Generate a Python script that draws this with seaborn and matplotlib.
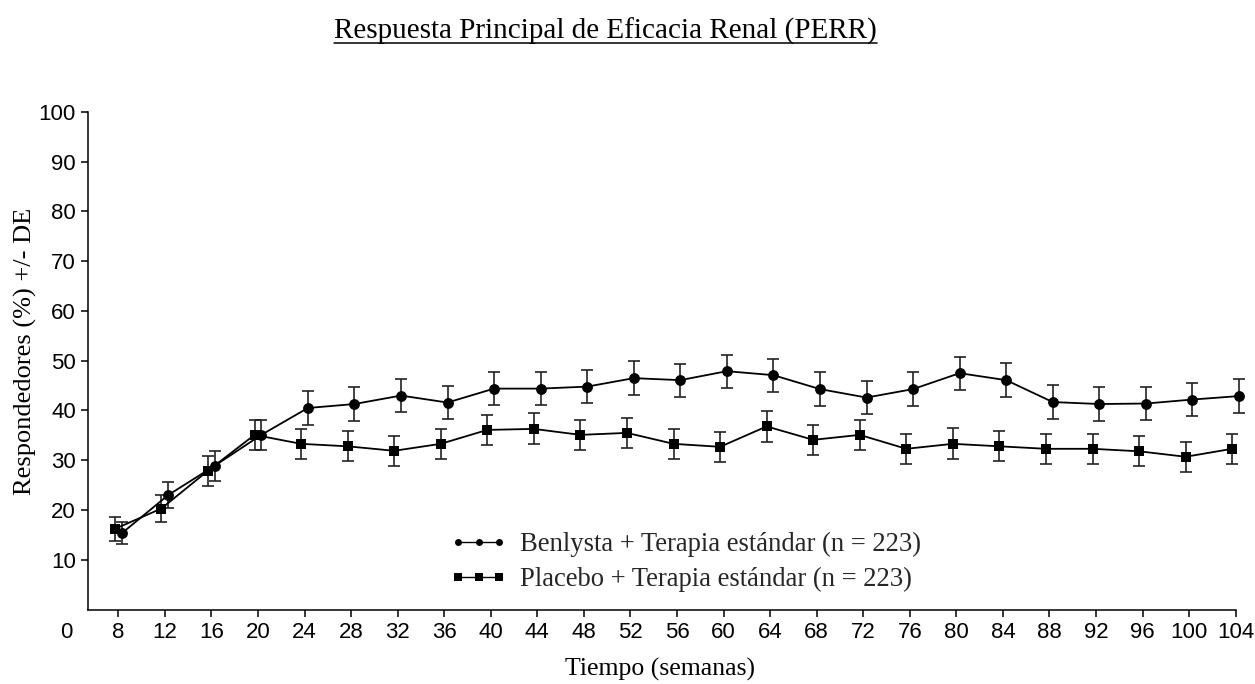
import numpy as np
import pandas as pd
import matplotlib
matplotlib.use("Agg")
import matplotlib.pyplot as plt
import matplotlib.transforms as mtransforms
from matplotlib.lines import Line2D
import seaborn as sns

# ---- data ----
weeks = [8, 12, 16, 20, 24, 28, 32, 36, 40, 44, 48, 52, 56, 60, 64, 68, 72, 76, 80, 84, 88, 92, 96, 100, 104]
benlysta = [15.3, 23.0, 28.9, 35.1, 40.5, 41.3, 43.0, 41.6, 44.4, 44.4, 44.8, 46.5, 46.1, 47.9, 47.1, 44.3,
            42.6, 44.3, 47.5, 46.1, 41.7, 41.3, 41.4, 42.2, 42.9]
benlysta_sd = [2.2, 2.65, 3.0, 3.05, 3.35, 3.4, 3.4, 3.3, 3.3, 3.3, 3.3, 3.35, 3.3, 3.35, 3.3, 3.35,
               3.3, 3.35, 3.35, 3.35, 3.35, 3.35, 3.35, 3.3, 3.35]
placebo = [16.2, 20.3, 27.9, 35.1, 33.3, 32.8, 31.9, 33.3, 36.1, 36.3, 35.1, 35.5, 33.3, 32.7, 36.8, 34.1,
           35.1, 32.3, 33.3, 32.8, 32.3, 32.3, 31.8, 30.7, 32.3]
placebo_sd = [2.35, 2.7, 3.0, 3.05, 3.05, 3.05, 3.05, 3.0, 3.05, 3.1, 3.05, 3.0, 3.05, 3.05, 3.05, 3.05,
              3.05, 3.05, 3.1, 3.05, 3.05, 3.05, 3.05, 3.05, 3.05]
label_b = "Benlysta + Terapia estándar (n = 223)"
label_p = "Placebo + Terapia estándar (n = 223)"
title = "Respuesta Principal de Eficacia Renal (PERR)"
xlabel = "Tiempo (semanas)"
ylabel = "Respondedores (%) +/- DE"
yticks = [10, 20, 30, 40, 50, 60, 70, 80, 90, 100]

# ---- style ----
sns.set_theme(style="ticks")
plt.rcParams['font.family'] = ['Liberation Sans', 'DejaVu Sans']
serif = ['Liberation Serif', 'DejaVu Serif']

dodge_b, dodge_p = 0.28, -0.30
df_b = pd.DataFrame({"x": np.array(weeks) + dodge_b, "y": benlysta, "sd": benlysta_sd, "g": label_b})
df_p = pd.DataFrame({"x": np.array(weeks) + dodge_p, "y": placebo, "sd": placebo_sd, "g": label_p})

fig = plt.figure(figsize=(12.55, 6.84), dpi=100)
ax = fig.add_axes([0.0704, 0.1089, 0.9142, 0.7274])

errc = "#222222"
for d in (df_p, df_b):
    ax.errorbar(d["x"], d["y"], yerr=d["sd"], fmt="none", ecolor=errc, elinewidth=1.2,
                capsize=4.6, capthick=1.2, clip_on=False, zorder=2)

sns.lineplot(data=df_p, x="x", y="y", ax=ax, color="black", marker="s", markersize=6.5,
             markeredgewidth=0, linewidth=1.3, legend=False, zorder=3, clip_on=False)
sns.lineplot(data=df_b, x="x", y="y", ax=ax, color="black", marker="o", markersize=7.8,
             markeredgewidth=0, linewidth=1.3, legend=False, zorder=4, clip_on=False)

ax.set_xlim(5.42, 104)
ax.set_ylim(0, 100)
ax.set_xticks(weeks)
ax.set_xticklabels([str(w) for w in weeks])
ax.set_yticks(yticks)
ax.set_yticklabels([str(v) for v in yticks])
ax.tick_params(axis="both", direction="out", length=5, width=1.1, color="black",
               labelsize=16, labelcolor="black", pad=4)
for side in ("top", "right"):
    ax.spines[side].set_visible(False)
for side in ("left", "bottom"):
    ax.spines[side].set_color("black")
    ax.spines[side].set_linewidth(1.1)

ax.set_xlabel(xlabel, family=serif, fontsize=18.5, color="black")
ax.xaxis.set_label_coords(0.498, -0.098)
ax.set_ylabel(ylabel, family=serif, fontsize=19, color="black")
ax.yaxis.set_label_coords(-0.045, 0.518)

# origin "0" label
off = mtransforms.offset_copy(ax.transAxes, fig=fig, x=0, y=-9, units="points")
ax.text(-0.0188, 0, "0", transform=off, ha="center", va="top", fontsize=16, color="black")

# legend
h_b = Line2D([], [], color="black", marker="o", markersize=5, linewidth=1.0, markeredgewidth=0)
h_p = Line2D([], [], color="black", marker="s", markersize=5.5, linewidth=1.0, markeredgewidth=0)
leg = ax.legend([h_b, h_p], [label_b, label_p], loc="upper left", bbox_to_anchor=(0.2946, 0.204),
                frameon=False, numpoints=3, handlelength=2.14, handletextpad=0.49, labelspacing=0.36,
                prop={"family": serif, "size": 19.2})

# underlined title
t = fig.text(0.4825, 0.9547, title, family=serif, fontsize=21, ha="center", va="center", color="black")
fig.canvas.draw()
bb = t.get_window_extent().transformed(fig.transFigure.inverted())
fig.add_artist(Line2D([bb.x0, bb.x1], [bb.y0 + 0.002, bb.y0 + 0.002], color="black", linewidth=1.1,
                      transform=fig.transFigure))

fig.savefig("out.png", dpi=100)
